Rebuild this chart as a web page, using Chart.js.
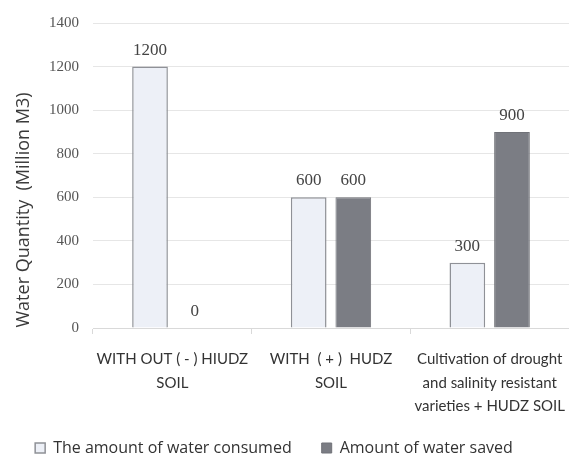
<!DOCTYPE html>
<html>
<head>
<meta charset="utf-8">
<script src="https://cdn.jsdelivr.net/npm/chart.js@4.4.0/dist/chart.umd.min.js"></script>
<style>
  html, body { margin: 0; padding: 0; background: #ffffff; overflow: hidden; }
  #wrap { width: 569px; height: 456px; position: relative; }
</style>
</head>
<body>
<div id="wrap"><canvas id="c" width="569" height="456"></canvas></div>
<script>
const categories = [
  ["WITH OUT ( - ) HIUDZ", "SOIL"],
  ["WITH  ( + )  HUDZ", "SOIL"],
  ["Cultivation of drought", "and salinity resistant", "varieties + HUDZ SOIL"]
];
const seriesNames = ["The amount of water consumed", "Amount of water saved"];
const consumed = [1200, 600, 300];
const saved = [0, 600, 900];
const yTitle = "Water Quantity  (Million M3)";
const yMin = 0, yMax = 1400, yStep = 200;

const PLOT_BOTTOM = 328;
const LEGEND_CENTER_Y = 447;
const LEGEND_PAD = 30;
const LEGEND_LAYOUT_H = 20;

const valueLabels = {
  id: 'valueLabels',
  afterDatasetsDraw(chart) {
    const ctx = chart.ctx;
    ctx.save();
    ctx.font = '17px "Liberation Serif", "Times New Roman", serif';
    ctx.fillStyle = '#444';
    ctx.textAlign = 'center';
    ctx.textBaseline = 'alphabetic';
    chart.data.datasets.forEach((ds, di) => {
      const meta = chart.getDatasetMeta(di);
      meta.data.forEach((bar, i) => {
        ctx.fillText(String(ds.data[i]), bar.x, bar.y - 12);
      });
    });
    ctx.restore();
  }
};

const yTitlePlugin = {
  id: 'yTitlePlugin',
  afterDraw(chart) {
    const ctx = chart.ctx;
    ctx.save();
    ctx.font = '18px "Open Sans", sans-serif';
    ctx.fillStyle = '#3a3a3a';
    ctx.textAlign = 'center';
    ctx.textBaseline = 'middle';
    ctx.translate(24, 210);
    ctx.rotate(-Math.PI / 2);
    ctx.fillText(yTitle, 0, 0);
    ctx.restore();
  }
};

const legendMover = {
  id: 'legendMover',
  beforeLayout(chart) {
    const lg = chart.legend;
    if (lg && !lg._patchedFit) {
      const orig = lg.fit;
      lg.fit = function () {
        orig.call(this);
        this._origH = this.height;
        this.height = LEGEND_LAYOUT_H;
      };
      lg._patchedFit = true;
    }
  },
  afterLayout(chart) {
    const lg = chart.legend;
    if (!lg) return;
    const oh = lg._origH || lg.height;
    const itemH = oh - 2 * LEGEND_PAD;
    const newTop = LEGEND_CENTER_Y - LEGEND_PAD - itemH / 2 - 9;
    lg.top = newTop;
    lg.bottom = newTop + oh;
    lg.height = oh;
    lg.left -= 13;
    lg.right -= 13;
  }
};

new Chart(document.getElementById('c'), {
  type: 'bar',
  data: {
    labels: categories,
    datasets: [
      {
        label: seriesNames[0],
        data: consumed,
        backgroundColor: '#edf0f7',
        borderColor: '#8f9197',
        borderWidth: 1.5,
        categoryPercentage: 0.5625,
        barPercentage: 0.8
      },
      {
        label: seriesNames[1],
        data: saved,
        backgroundColor: '#7b7d84',
        borderColor: '#707278',
        borderWidth: 1,
        categoryPercentage: 0.5625,
        barPercentage: 0.8
      }
    ]
  },
  options: {
    responsive: false,
    animation: false,
    layout: { padding: { top: 20, right: -5, bottom: 0, left: 0 } },
    plugins: {
      legend: {
        position: 'bottom',
        labels: {
          boxWidth: 10,
          boxHeight: 10,
          padding: LEGEND_PAD,
          color: '#333',
          font: { family: '"Open Sans", sans-serif', size: 16 }
        }
      },
      tooltip: { enabled: false }
    },
    scales: {
      x: {
        afterFit(scale) {
          scale.height = 456 - PLOT_BOTTOM - LEGEND_LAYOUT_H;
          scale.paddingLeft = 0;
          scale.paddingRight = 0;
        },
        grid: { display: true, drawOnChartArea: false, drawTicks: true, tickLength: 6, color: '#d9d9d9', offset: true },
        border: { display: true, color: '#d9d9d9' },
        ticks: {
          color: '#333',
          padding: 14,
          maxRotation: 0,
          autoSkip: false,
          font: { family: 'Lato, sans-serif', size: 15, lineHeight: 1.55 }
        }
      },
      y: {
        min: yMin,
        max: yMax,
        afterFit(scale) { scale.width = 93; },
        grid: { color: '#e6e6e6', drawTicks: false },
        border: { display: false },
        ticks: {
          stepSize: yStep,
          color: '#555',
          padding: 14,
          callback: (v) => String(v),
          font: { family: '"Liberation Serif", "Times New Roman", serif', size: 15 }
        }
      }
    }
  },
  plugins: [valueLabels, yTitlePlugin, legendMover]
});
</script>
</body>
</html>
